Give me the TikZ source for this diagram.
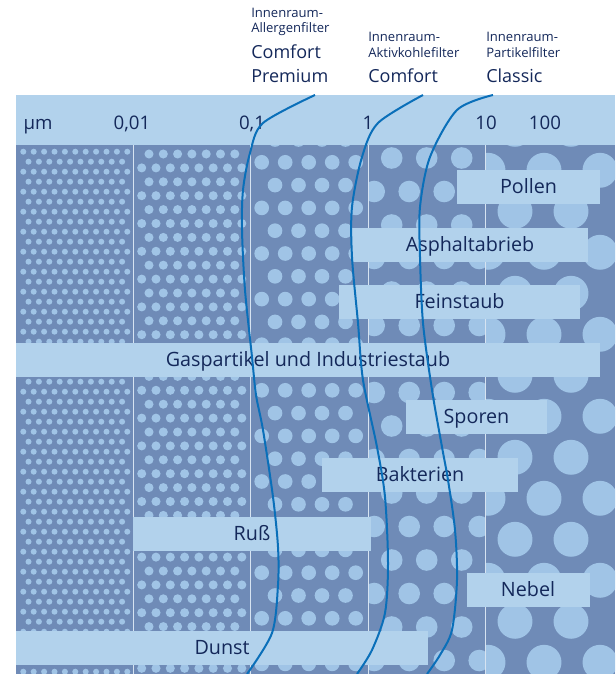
\documentclass[tikz,border=0pt]{standalone}
\usepackage{fontspec}
\setmainfont{Open Sans}
\usepackage{tikz}

\definecolor{filterBack}{HTML}{6F8BB7}
\definecolor{filterDot}{HTML}{A0C4E6}
\definecolor{filterBand}{HTML}{B2D2EC}
\definecolor{filterText}{HTML}{14285A}
\definecolor{filterLine}{HTML}{0A6FB9}
\definecolor{filterSep}{HTML}{D6E3F1}

\begin{document}
\begin{tikzpicture} [x = 0.75pt, y = -0.75pt,
		dot/.style = {fill=filterDot},
		particle/.style = {fill=filterBand,
			text = filterText,
			inner sep = 0pt,
			minimum height = 25.5pt,
			text height = 10.6pt,
			text depth = 1.6pt,
			font = \fontsize{14.8}{17}\selectfont},
		tick/.style = {text=filterText, inner sep=0pt, anchor=base,
			font = \fontsize{14}{17}\selectfont},
		small/.style = {text=filterText, inner sep=0pt, anchor=west,
			font = \fontsize{9.8}{11}\selectfont},
		big/.style = {text=filterText, inner sep=0pt, anchor=west,
			font = \fontsize{13.5}{16}\selectfont},
		filter/.style = {draw=filterLine, line width=1.5pt}]

	\useasboundingbox (0,0) rectangle (615,674);

	\fill[filterBack] (16,145) rectangle (615,674);

	% dots: x row A / n A / x row B / n B / dx / y0 / dy / rows / radius / left / right
	\foreach \xa/\na/\xb/\nb/\dx/\ya/\dy/\nr/\rad/\xl/\xr in {
			23.3/10/28.5/9/10.4/151.7/10/52/2.25pt/16/133,
			149/6/141.7/7/14.3/154/13.9/37/3.4pt/133/250,
			275/3/261.7/4/23.5/139.5/22.8/24/5.5pt/250/368,
			374.2/3/391.7/2/35/124.5/33.5/17/8.1pt/368/485,
			515/1/488/2/56/129.3/41/14/13.1pt/485/615} {
		\begin{scope}
			\clip (\xl,145) rectangle (\xr,674);
			\foreach \rr in {0,...,\nr} {
				\pgfmathsetmacro{\yy}{\ya+\dy*\rr}
				\ifodd\rr \edef\xs{\xb}\edef\ns{\nb}\else \edef\xs{\xa}\edef\ns{\na}\fi
				\foreach \cc in {0,...,\ns}
					\fill[dot] ({\xs+\dx*\cc},\yy) circle (\rad);
			}
		\end{scope}
	}

	\fill[filterBand] (16,95) rectangle (615,145);
	\foreach \xx in {133,250,368,485}
		\draw[filterSep, line width=0.75pt] (\xx,145) -- (\xx,674);

	\node (mu) at (38,129) [tick] {µm};
	\node (t001) at (132,129) [tick] {0,01};
	\node (t01) at (252,129) [tick] {0,1};
	\node (t1) at (368,129) [tick] {1};
	\node (t10) at (486,129) [tick] {10};
	\node (t100) at (545,129) [tick] {100};

	\node (allergenA) at (251,13) [small] {Innenraum-};
	\node (allergenB) at (251,29) [small] {Allergenfilter};
	\node (allergenC) at (251,52) [big] {Comfort};
	\node (allergenD) at (251,76) [big] {Premium};
	\node (aktivA) at (368,37) [small] {Innenraum-};
	\node (aktivB) at (368,53) [small] {Aktivkohlefilter};
	\node (aktivC) at (368,76) [big] {Comfort};
	\node (partikelA) at (486,37) [small] {Innenraum-};
	\node (partikelB) at (486,53) [small] {Partikelfilter};
	\node (partikelC) at (486,76) [big] {Classic};

	\node (Pollen) at (528.5,187) [particle, minimum width = 107.25pt] {Pollen};
	\node (Asphalt) at (470,245) [particle, minimum width = 177pt] {Asphaltabrieb};
	\node (Fein) at (459.5,302) [particle, minimum width = 180.75pt] {Feinstaub};
	\node (Gas) at (308,360) [particle, minimum width = 438pt] {Gaspartikel und Industriestaub};
	\node (Sporen) at (476.5,417) [particle, minimum width = 105.75pt] {Sporen};
	\node (Bakt) at (420,475) [particle, minimum width = 147pt] {Bakterien};
	\node (Russ) at (252,534) [particle, minimum width = 178.5pt] {Ruß};
	\node (Nebel) at (528,590) [particle, minimum width = 92.25pt] {Nebel};
	\node (Dunst) at (222,648) [particle, minimum width = 309pt] {Dunst};

	\draw[filter] plot[smooth] coordinates {(315,95) (263,123) (250,153) (243,190) (242,230)
		(245,290) (252,357) (256,395) (263,430) (273,497) (278,547) (278,585) (272,633) (247,674)};
	\draw[filter] plot[smooth] coordinates {(423,95) (378,123) (362,157) (352,207) (352,257)
		(358,323) (363,380) (377,447) (385,497) (388,563) (385,613) (372,650) (357,674)};
	\draw[filter] plot[smooth] coordinates {(493,95) (457,110) (430,157) (420,207) (420,257)
		(423,323) (432,390) (442,447) (448,480) (455,530) (457,580) (452,630) (440,655) (427,674)};

\end{tikzpicture}
\end{document}
